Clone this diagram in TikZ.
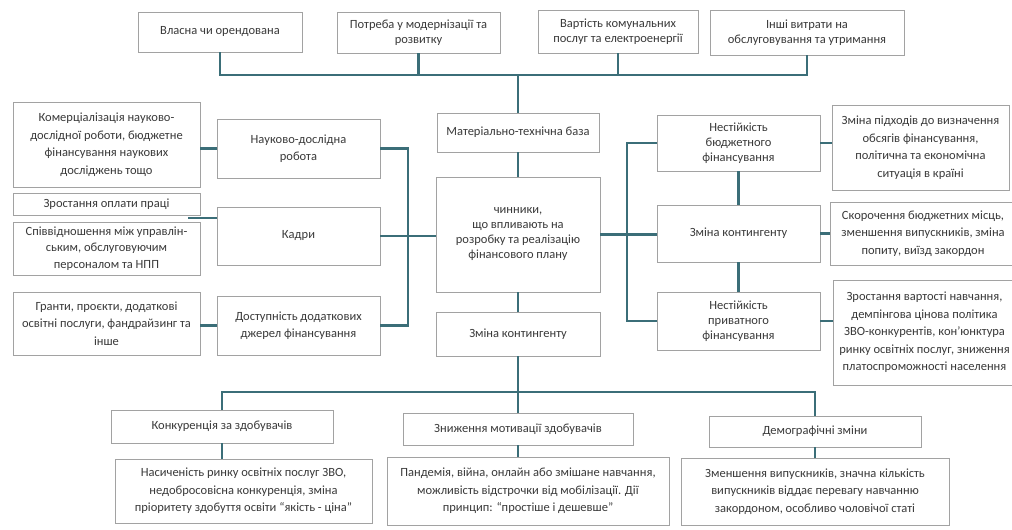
\documentclass[tikz,border=0pt]{standalone}
\usepackage{fontspec}
\setmainfont{Carlito}
\definecolor{boxgray}{HTML}{A2A2A2}
\definecolor{link}{HTML}{3B6E78}
\definecolor{txt}{HTML}{3A3A3A}
\begin{document}
\begin{tikzpicture}[x=1pt,y=-1pt,
  box/.style={draw=boxgray, line width=0.9pt, fill=white, align=center, inner sep=0pt, text=txt,
    font=\fontsize{12.5}{17.5}\selectfont},
  tight/.style={font=\fontsize{12.5}{15}\selectfont},
  mid/.style={font=\fontsize{12.5}{16.5}\selectfont},
  conn/.style={draw=link, line width=2.2pt}]
\clip (0,0) rectangle (1012,530);
\fill[white] (0,0) rectangle (1012,530);
% top row
\node[box, minimum width=164, minimum height=40] (own) at (220,32) {Власна чи орендована};
\node[box, minimum width=163, minimum height=41, tight] (modern) at (418.5,32.5) {Потреба у модернізації та\\розвитку};
\node[box, minimum width=160, minimum height=43, tight] (util) at (618,31.5) {Вартість комунальних\\послуг та електроенергії};
\node[box, minimum width=194, minimum height=45, tight] (other) at (807,32.5) {Інші витрати на\\обслуговування та утримання};
% centre column
\node[box, minimum width=162, minimum height=39] (mtb) at (518,132.5) {Матеріально-технічна база};
\node[box, minimum width=164, minimum height=115, tight] (cen) at (518,234.5) {чинники,\\що впливають на\\розробку та реалізацію\\фінансового плану};
\node[box, minimum width=164, minimum height=44] (zk) at (518,334) {Зміна контингенту};
% left
\node[box, minimum width=187, minimum height=85] (kom) at (106.5,144.5) {Комерціалізація науково-\\дослідної роботи, бюджетне\\фінансування наукових\\досліджень тощо};
\node[box, minimum width=187, minimum height=22] (zro) at (106.5,204) {Зростання оплати праці};
\node[box, minimum width=187, minimum height=53, mid] (spiv) at (106.5,248.5) {Співвідношення між управлін-\\ським, обслуговуючим\\персоналом та НПП};
\node[box, minimum width=187, minimum height=63] (gra) at (106.5,323.5) {Гранти, проєкти, додаткові\\освітні послуги, фандрайзинг та\\інше};
\node[box, minimum width=163, minimum height=59] (nd) at (298.5,148.5) {Науково-дослідна\\робота};
\node[box, minimum width=163, minimum height=58] (kad) at (298.5,236) {Кадри};
\node[box, minimum width=163, minimum height=59] (dost) at (298.5,325.5) {Доступність додаткових\\джерел фінансування};
% right
\node[box, minimum width=163, minimum height=56, tight] (nb) at (738.5,143) {Нестійкість\\бюджетного\\фінансування};
\node[box, minimum width=163, minimum height=57] (zk2) at (738.5,233.5) {Зміна контингенту};
\node[box, minimum width=163, minimum height=58, tight] (np) at (738.5,321) {Нестійкість\\приватного\\фінансування};
\node[box, minimum width=177, minimum height=85] (zp) at (920.5,147.5) {Зміна підходів до визначення\\обсягів фінансування,\\політична та економічна\\ситуація в країні};
\node[box, minimum width=186, minimum height=63] (sk) at (923,233.5) {Скорочення бюджетних місць,\\зменшення випускників, зміна\\попиту, виїзд закордон};
\node[box, minimum width=183, minimum height=105] (zv) at (924.5,332.5) {Зростання вартості навчання,\\демпінгова цінова політика\\ЗВО-конкурентів, кон'юнктура\\ринку освітніх послуг, зниження\\платоспроможності населення};
% bottom
\node[box, minimum width=222, minimum height=33] (kon) at (222,426.5) {Конкуренція за здобувачів};
\node[box, minimum width=230, minimum height=32] (zn) at (518,429) {Зниження мотивації здобувачів};
\node[box, minimum width=212, minimum height=31] (dem) at (815,431.5) {Демографічні зміни};
\node[box, minimum width=257, minimum height=64] (nas) at (243.5,491) {Насиченість ринку освітніх послуг ЗВО,\\недобросовісна конкуренція, зміна\\пріоритету здобуття освіти “якість - ціна”};
\node[box, minimum width=282, minimum height=68] (pan) at (528,491) {Пандемія, війна, онлайн або змішане навчання,\\можливість відстрочки від мобілізації. Дії\\принцип: “простіше і дешевше”};
\node[box, minimum width=268, minimum height=67] (zme) at (815,491.5) {Зменшення випускників, значна кількість\\випускників віддає перевагу навчанню\\закордоном, особливо чоловічої статі};
% coordinates
\coordinate (tb) at (518,75);
\coordinate (lb) at (408,0);
\coordinate (rb) at (627,0);
\coordinate (kz) at (188,218);
\coordinate (bb) at (518,392);
% connectors
\draw[conn] (own.south) |- (tb) -| (other.south);
\draw[conn] (modern.south) -- (modern.south |- tb);
\draw[conn] (util.south) -- (util.south |- tb);
\draw[conn] (tb) -- (mtb.north);
\draw[conn] (mtb.south) -- (cen.north);
\draw[conn] (cen.south) -- (zk.north);
\draw[conn] (zk.south) -- (zn.north);
\draw[conn] (kon.north) |- (bb) -| (dem.north);
\draw[conn] (kon.south) -- (kon.south |- nas.north);
\draw[conn] (zn.south) -- (zn.south |- pan.north);
\draw[conn] (dem.south) -- (dem.south |- zme.north);
\draw[conn] (nd.west) -- (nd.west -| kom.east);
\draw[conn] (kz) -- (kz -| kad.west);
\draw[conn] (dost.west) -- (dost.west -| gra.east);
\draw[conn] (nd.east) -- (nd.east -| lb) -- (dost.east -| lb) -- (dost.east);
\draw[conn] (kad.east) -- (kad.east -| cen.west);
\draw[conn] (nb.west) -- (nb.west -| rb) -- (np.west -| rb) -- (np.west);
\draw[conn] (cen.east) -- (cen.east -| zk2.west);
\draw[conn] (nb.south) -- (zk2.north);
\draw[conn] (zk2.south) -- (np.north);
\draw[conn] (nb.east) -- (nb.east -| zp.west);
\draw[conn] (zk2.east) -- (zk2.east -| sk.west);
\draw[conn] (np.east) -- (np.east -| zv.west);
\end{tikzpicture}
\end{document}
